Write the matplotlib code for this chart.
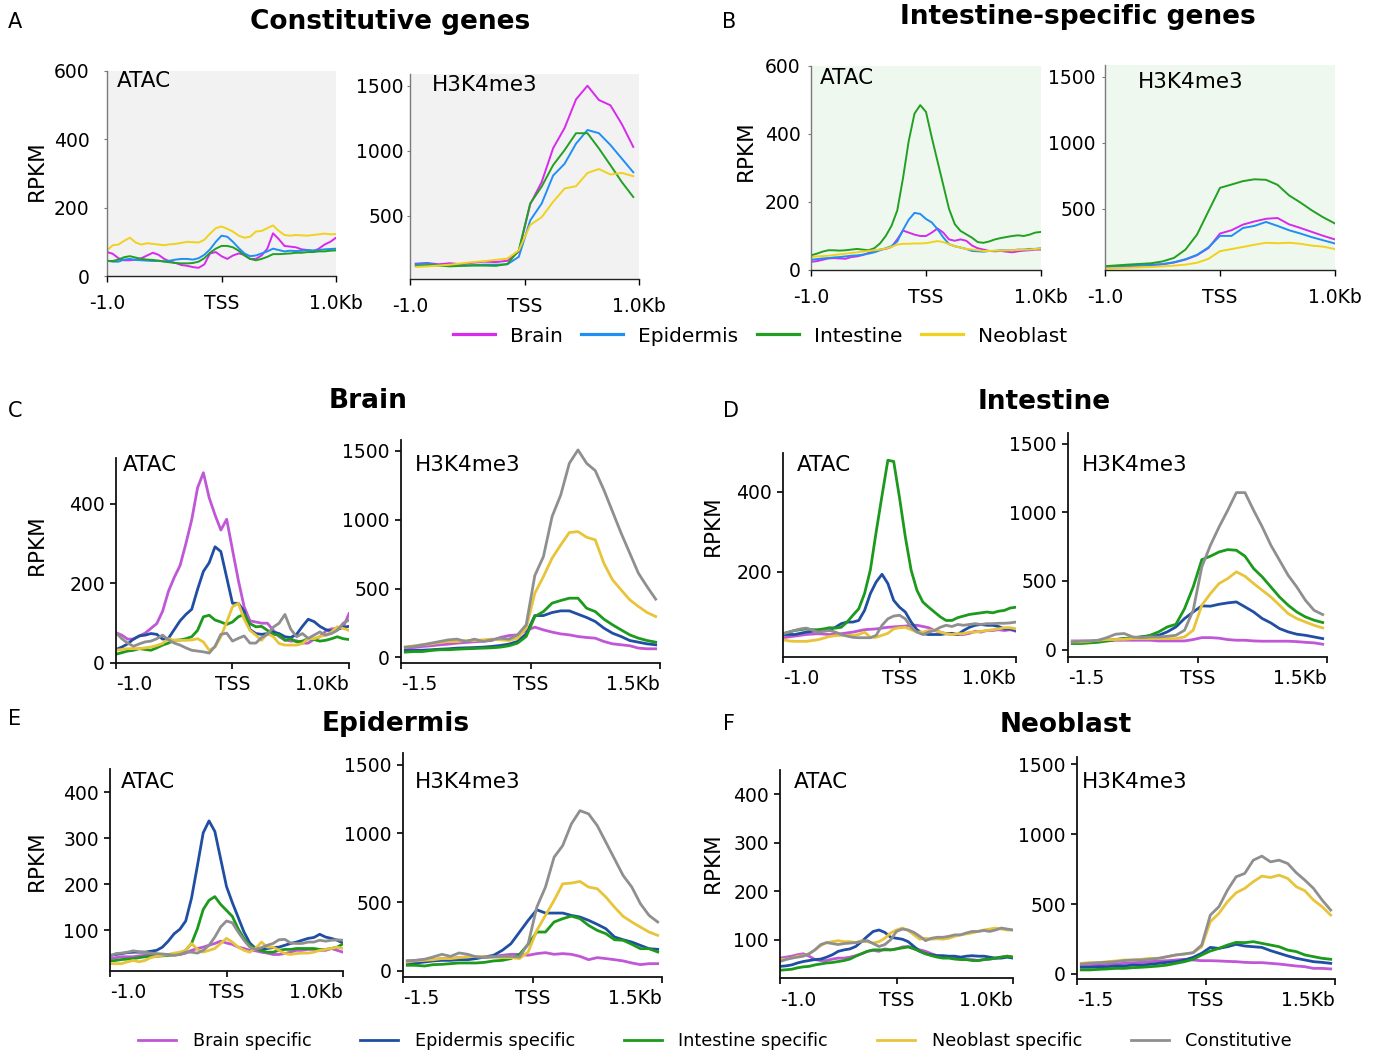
import numpy as np
import matplotlib
matplotlib.use("Agg")
import matplotlib.pyplot as plt
from matplotlib.lines import Line2D

W, H = 1377, 1054

# ---------------- tick labels ----------------
xlabels_1kb = ["-1.0", "TSS", "1.0Kb"]
xlabels_15kb = ["-1.5", "TSS", "1.5Kb"]

# ---------------- A: constitutive genes (4 tissues) ----------------
a_atac_brain = [70, 65, 52, 46, 46, 48, 52, 60, 68, 62, 50, 42, 38, 32, 30, 26, 24, 34, 66, 70, 58,
                50, 60, 66, 62, 50, 50, 60, 80, 125, 108, 88, 86, 84, 78, 76, 72, 80, 92, 100, 112]
a_atac_epidermis = [45, 42, 42, 48, 50, 47, 46, 45, 44, 44, 43, 45, 48, 50, 50, 48, 52, 62, 78, 100, 118,
                    115, 100, 82, 66, 58, 60, 66, 72, 80, 76, 72, 74, 73, 74, 76, 75, 76, 78, 79, 80]
a_atac_intestine = [44, 44, 48, 55, 58, 54, 50, 48, 47, 45, 42, 40, 38, 37, 37, 38, 42, 52, 68, 80, 88,
                    88, 84, 74, 60, 50, 46, 50, 56, 64, 64, 65, 66, 68, 68, 70, 70, 72, 72, 74, 75]
a_atac_neoblast = [75, 90, 92, 103, 112, 98, 92, 96, 94, 92, 90, 93, 94, 97, 100, 99, 98, 106, 124, 140, 145,
                   138, 130, 118, 112, 115, 130, 132, 140, 148, 132, 120, 118, 120, 119, 118, 120, 122, 124, 122, 123]

a_h3_brain = [133, 138, 128, 136, 128, 140, 148, 145, 155, 225, 590, 760, 1020, 1175, 1395, 1500, 1390, 1350, 1205, 1030]
a_h3_epidermis = [128, 135, 122, 118, 118, 122, 125, 125, 128, 185, 465, 595, 810, 900, 1055, 1160, 1135, 1045, 940, 835]
a_h3_intestine = [115, 122, 118, 112, 116, 118, 118, 116, 130, 235, 595, 725, 890, 1005, 1135, 1135, 1018, 890, 760, 645]
a_h3_neoblast = [108, 112, 118, 125, 135, 145, 152, 162, 172, 235, 430, 490, 608, 710, 728, 830, 860, 818, 830, 805]

# ---------------- B: intestine-specific genes (4 tissues) ----------------
b_atac_brain = [24, 26, 30, 34, 35, 34, 33, 38, 40, 44, 50, 56, 60, 62, 68, 90, 116, 110, 104, 100, 100,
                110, 122, 110, 90, 86, 90, 86, 72, 64, 60, 56, 55, 56, 54, 52, 55, 57, 58, 60, 60]
b_atac_epidermis = [30, 32, 34, 35, 37, 38, 40, 42, 43, 45, 48, 52, 58, 64, 70, 84, 118, 148, 168, 165, 150,
                    140, 120, 96, 76, 70, 66, 62, 56, 55, 54, 56, 56, 58, 58, 58, 60, 60, 62, 62, 64]
b_atac_intestine = [43, 48, 54, 58, 58, 57, 58, 60, 62, 60, 58, 64, 78, 100, 130, 175, 270, 380, 460, 485, 465,
                    390, 320, 250, 180, 135, 115, 105, 95, 82, 80, 84, 90, 94, 97, 100, 102, 100, 104, 110, 112]
b_atac_neoblast = [38, 40, 41, 42, 44, 46, 48, 50, 52, 54, 56, 58, 60, 63, 68, 75, 77, 77, 78, 78, 79,
                   82, 85, 82, 76, 70, 66, 62, 60, 58, 56, 56, 57, 57, 58, 58, 59, 60, 60, 62, 63]

b_h3_brain = [57, 60, 63, 66, 70, 76, 90, 112, 145, 200, 310, 335, 378, 402, 422, 428, 380, 352, 322, 292, 265]
b_h3_epidermis = [60, 62, 65, 68, 72, 78, 92, 115, 148, 205, 292, 292, 352, 368, 398, 368, 335, 310, 282, 258, 234]
b_h3_intestine = [62, 68, 74, 79, 84, 98, 125, 188, 302, 480, 657, 682, 708, 722, 718, 680, 600, 545, 485, 432, 386]
b_h3_neoblast = [44, 47, 50, 53, 56, 60, 66, 74, 88, 118, 176, 192, 208, 225, 240, 236, 240, 232, 218, 210, 192]

# ---------------- C: brain ----------------
c_atac_brain_sp = [76, 70, 60, 60, 68, 75, 87, 99, 130, 180, 215, 245, 300, 360, 440, 478, 415, 372, 334, 361, 284,
                   208, 141, 106, 103, 100, 100, 82, 66, 58, 55, 56, 50, 50, 60, 66, 80, 86, 86, 90, 124]
c_atac_epi_sp = [34, 40, 48, 60, 68, 70, 74, 72, 60, 62, 84, 106, 122, 135, 185, 230, 252, 292, 280, 215, 150,
                 150, 130, 84, 74, 72, 74, 78, 74, 66, 64, 72, 92, 110, 104, 92, 84, 80, 84, 90, 92]
c_atac_int_sp = [22, 26, 30, 32, 36, 34, 32, 38, 45, 50, 57, 58, 61, 66, 82, 116, 120, 108, 103, 97, 103,
                 116, 122, 99, 91, 92, 82, 72, 70, 57, 61, 53, 55, 61, 59, 55, 57, 61, 66, 61, 59]
c_atac_neo_sp = [32, 34, 36, 36, 36, 38, 40, 44, 49, 61, 57, 57, 57, 58, 61, 53, 32, 40, 66, 103, 141,
                 150, 110, 82, 70, 57, 74, 66, 49, 45, 45, 45, 49, 61, 61, 66, 70, 78, 91, 87, 82]
c_atac_const = [76, 61, 50, 42, 48, 53, 55, 61, 70, 58, 50, 45, 38, 32, 30, 28, 25, 42, 72, 75, 55,
                62, 68, 50, 50, 64, 72, 90, 100, 122, 85, 66, 74, 62, 70, 78, 70, 74, 82, 100, 108]

c_h3_brain_sp = [68, 72, 80, 85, 92, 97, 104, 109, 114, 118, 123, 145, 159, 164, 196,
                 220, 200, 184, 171, 164, 152, 145, 140, 116, 99, 92, 85, 68, 63, 63]
c_h3_epi_sp = [51, 51, 53, 56, 60, 63, 68, 70, 72, 75, 80, 87, 97, 116, 171,
               304, 304, 326, 338, 338, 314, 290, 261, 213, 176, 152, 123, 111, 99, 92]
c_h3_int_sp = [39, 43, 43, 51, 56, 56, 60, 63, 65, 68, 70, 75, 85, 104, 152,
               297, 333, 394, 413, 430, 430, 357, 333, 278, 237, 200, 164, 140, 123, 111]
c_h3_neo_sp = [75, 85, 92, 99, 109, 116, 116, 123, 123, 128, 133, 128, 123, 140, 213,
               466, 587, 720, 816, 906, 913, 872, 853, 683, 563, 490, 418, 370, 326, 297]
c_h3_const = [75, 80, 92, 104, 116, 128, 133, 116, 133, 116, 128, 140, 133, 164, 237,
              594, 732, 1022, 1178, 1408, 1505, 1408, 1355, 1215, 1058, 901, 756, 611, 514, 423]

# ---------------- D: intestine ----------------
d_atac_brain_sp = [36, 38, 40, 42, 44, 45, 46, 45, 44, 45, 46, 48, 50, 53, 56, 57, 58, 60, 62, 63, 64,
                   65, 67, 67, 64, 61, 54, 50, 46, 44, 44, 44, 47, 52, 50, 54, 54, 56, 54, 56, 52]
d_atac_epi_sp = [44, 44, 44, 47, 50, 52, 54, 55, 56, 62, 71, 75, 75, 79, 104, 146, 175, 194, 171, 129, 112,
                 100, 75, 56, 46, 44, 44, 44, 46, 47, 44, 54, 62, 67, 69, 67, 67, 64, 58, 58, 54]
d_atac_int_sp = [46, 50, 54, 56, 58, 56, 56, 58, 61, 60, 62, 75, 92, 108, 146, 205, 300, 390, 478, 475, 385,
                 287, 204, 154, 125, 112, 100, 88, 79, 79, 86, 90, 94, 96, 98, 100, 98, 102, 104, 110, 112]
d_atac_neo_sp = [31, 28, 27, 27, 27, 29, 31, 35, 39, 41, 42, 42, 42, 44, 50, 37, 37, 42, 47, 58, 61,
                 62, 56, 50, 50, 54, 54, 50, 46, 44, 46, 46, 50, 50, 52, 54, 56, 58, 61, 61, 58]
d_atac_const = [46, 50, 54, 58, 60, 55, 50, 52, 54, 50, 44, 40, 37, 36, 36, 36, 42, 67, 83, 90, 92,
                83, 62, 50, 44, 50, 54, 62, 67, 64, 69, 67, 69, 71, 69, 71, 71, 72, 72, 73, 75]

d_h3_brain_sp = [63, 63, 63, 63, 63, 68, 68, 68, 68, 68, 63, 63, 63, 63, 73,
                 87, 87, 83, 73, 68, 68, 63, 61, 61, 61, 61, 58, 53, 49, 39]
d_h3_epi_sp = [49, 51, 56, 61, 68, 73, 80, 85, 92, 97, 104, 129, 165, 226, 274,
               318, 316, 330, 340, 347, 311, 274, 226, 194, 153, 129, 112, 104, 92, 80]
d_h3_int_sp = [44, 44, 49, 53, 63, 73, 80, 87, 92, 104, 129, 165, 184, 298, 456,
               655, 680, 711, 728, 723, 680, 590, 529, 456, 383, 323, 274, 238, 214, 197]
d_h3_neo_sp = [56, 56, 61, 68, 73, 73, 75, 80, 80, 80, 80, 80, 80, 92, 141,
               323, 408, 481, 517, 566, 534, 481, 432, 383, 323, 262, 226, 201, 177, 158]
d_h3_const = [56, 61, 63, 68, 87, 112, 117, 92, 87, 92, 92, 97, 104, 141, 286,
              602, 760, 893, 1014, 1143, 1143, 1014, 893, 760, 650, 541, 456, 359, 286, 255]

# ---------------- E: epidermis ----------------
e_atac_brain_sp = [38, 40, 42, 42, 42, 44, 45, 46, 47, 47, 47, 47, 47, 50, 56, 60, 63, 67, 71, 76, 72,
                   69, 63, 60, 56, 55, 52, 50, 47, 47, 49, 52, 56, 56, 58, 58, 56, 56, 60, 56, 52]
e_atac_epi_sp = [45, 47, 49, 51, 52, 52, 52, 54, 56, 63, 76, 92, 102, 120, 170, 240, 312, 338, 315, 255, 195,
                 160, 128, 96, 72, 60, 58, 60, 62, 63, 67, 71, 74, 78, 82, 84, 91, 85, 82, 78, 72]
e_atac_int_sp = [33, 34, 36, 37, 38, 40, 42, 43, 43, 44, 45, 46, 47, 56, 71, 103, 145, 165, 173, 156, 143,
                 130, 103, 82, 67, 60, 55, 52, 52, 56, 58, 58, 60, 60, 60, 60, 58, 58, 60, 63, 70]
e_atac_neo_sp = [27, 27, 27, 31, 34, 31, 34, 40, 43, 45, 47, 50, 52, 56, 71, 58, 52, 56, 60, 71, 82,
                 74, 63, 56, 52, 60, 74, 63, 63, 56, 49, 47, 49, 50, 50, 52, 56, 58, 60, 63, 60]
e_atac_const = [43, 49, 50, 52, 55, 53, 52, 50, 49, 48, 47, 45, 47, 52, 52, 50, 56, 67, 85, 107, 120,
                116, 96, 78, 63, 58, 62, 67, 71, 79, 80, 72, 71, 71, 74, 74, 78, 76, 78, 79, 78]

e_h3_brain_sp = [73, 77, 82, 82, 90, 90, 97, 102, 102, 102, 106, 114, 121, 121, 114,
                 126, 133, 121, 126, 121, 106, 82, 97, 90, 82, 73, 58, 46, 53, 53]
e_h3_epi_sp = [53, 58, 65, 73, 77, 77, 82, 82, 90, 102, 114, 150, 198, 283, 368,
               445, 421, 421, 421, 404, 392, 368, 339, 307, 247, 227, 210, 186, 162, 157]
e_h3_int_sp = [41, 41, 36, 46, 48, 53, 58, 58, 58, 63, 73, 77, 90, 121, 194,
               283, 283, 356, 380, 399, 380, 331, 295, 271, 227, 223, 194, 162, 162, 138]
e_h3_neo_sp = [65, 73, 77, 82, 90, 90, 97, 102, 106, 102, 102, 97, 97, 90, 138,
               295, 404, 513, 634, 639, 651, 610, 598, 537, 464, 397, 356, 319, 283, 259]
e_h3_const = [73, 77, 85, 102, 121, 106, 131, 121, 102, 97, 102, 106, 106, 102, 198,
              464, 610, 827, 912, 1069, 1166, 1142, 1057, 936, 815, 694, 610, 489, 404, 356]

# ---------------- F: neoblast ----------------
f_atac_brain_sp = [62, 64, 66, 69, 71, 66, 59, 57, 57, 60, 62, 62, 64, 67, 71, 76, 78, 76, 81, 79, 81,
                   85, 86, 83, 79, 76, 71, 67, 66, 64, 62, 60, 59, 59, 57, 59, 60, 62, 64, 66, 64]
f_atac_epi_sp = [45, 46, 48, 52, 55, 57, 59, 60, 64, 69, 76, 79, 81, 86, 96, 107, 117, 120, 115, 105, 103,
                 101, 96, 86, 76, 71, 69, 67, 67, 66, 66, 64, 66, 67, 66, 66, 64, 62, 62, 64, 62]
f_atac_int_sp = [37, 38, 39, 42, 44, 45, 48, 50, 52, 53, 55, 57, 60, 66, 71, 76, 79, 79, 79, 79, 81,
                 83, 85, 81, 76, 71, 67, 64, 62, 62, 60, 59, 59, 57, 57, 59, 60, 62, 64, 66, 64]
f_atac_neo_sp = [59, 60, 62, 66, 67, 71, 79, 88, 94, 96, 98, 96, 96, 94, 98, 96, 93, 96, 103, 114, 120,
                 124, 119, 110, 101, 103, 101, 102, 101, 103, 107, 110, 112, 114, 117, 120, 122, 124, 122, 120, 120]
f_atac_const = [55, 59, 62, 64, 66, 71, 79, 90, 94, 92, 90, 92, 93, 94, 96, 98, 92, 86, 90, 100, 117,
                122, 120, 115, 107, 98, 103, 105, 105, 107, 110, 110, 114, 117, 117, 119, 117, 120, 124, 122, 120]

f_h3_brain_sp = [57, 60, 64, 69, 71, 76, 81, 83, 88, 93, 95, 100, 105, 100, 95,
                 95, 93, 90, 88, 83, 81, 81, 76, 71, 64, 57, 52, 40, 40, 36]
f_h3_epi_sp = [48, 48, 52, 52, 57, 57, 64, 64, 69, 76, 83, 88, 100, 119, 148,
               190, 183, 195, 212, 200, 195, 190, 167, 148, 129, 112, 100, 88, 83, 76]
f_h3_int_sp = [29, 29, 33, 36, 40, 40, 45, 48, 52, 57, 64, 76, 88, 105, 136,
               164, 183, 207, 226, 224, 231, 219, 207, 195, 171, 160, 136, 124, 112, 105]
f_h3_neo_sp = [76, 81, 81, 88, 93, 100, 100, 105, 112, 112, 124, 136, 143, 152, 195,
               374, 433, 517, 581, 612, 660, 700, 690, 707, 683, 624, 595, 529, 481, 421]
f_h3_const = [71, 76, 81, 83, 88, 95, 100, 100, 105, 112, 124, 136, 143, 152, 207,
              421, 481, 600, 695, 719, 814, 843, 802, 814, 790, 724, 671, 612, 529, 457]

# ---------------- styling ----------------
tissue_names = ["Brain", "Epidermis", "Intestine", "Neoblast"]
tissue_colors = ["#d829ee", "#1f8ff5", "#22a022", "#f0d21e"]
group_names = ["Brain specific", "Epidermis specific", "Intestine specific",
               "Neoblast specific", "Constitutive"]
group_colors = ["#bf57d6", "#1f4ea3", "#1c9a1c", "#e8c43a", "#8f8f8f"]

plt.rcParams["font.family"] = ["DejaVu Sans"]
fig = plt.figure(figsize=(W / 100, H / 100), dpi=100)


def rect(x0, x1, y0, y1):
    return [x0 / W, 1 - y1 / H, (x1 - x0) / W, (y1 - y0) / H]


def fx(x):
    return x / W


def fy(y):
    return 1 - y / H


def make_axes(box, ylim, yticks, xlim, xlabels, style, ypad=4, xpad=6):
    ax = fig.add_axes(rect(*box))
    ax.set_xlim(*xlim)
    ax.set_ylim(*ylim)
    ax.set_yticks(yticks)
    ax.set_yticklabels([str(t) for t in yticks])
    ax.set_xticks([xlim[0], 0, xlim[1]])
    ax.set_xticklabels(xlabels)
    ax.spines["top"].set_visible(False)
    ax.spines["right"].set_visible(False)
    if style == "top":
        ax.spines["left"].set_color("#7a7a7a")
        ax.spines["left"].set_linewidth(1.0)
        ax.spines["bottom"].set_color("#222222")
        ax.spines["bottom"].set_linewidth(1.0)
        ax.tick_params(axis="y", length=2.5, width=0.8, color="#7a7a7a",
                       labelsize=13.5, pad=ypad)
        ax.tick_params(axis="x", length=4, width=1.0, labelsize=13.5, pad=xpad)
    else:
        for s in ("left", "bottom"):
            ax.spines[s].set_color("#111111")
            ax.spines[s].set_linewidth(1.3)
        ax.tick_params(axis="both", length=4, width=1.2, labelsize=13.5)
        ax.tick_params(axis="y", pad=ypad)
        ax.tick_params(axis="x", pad=xpad)
        # outer labels sit inside the axis span
        xt = ax.get_xticklabels()
        xt[0].set_horizontalalignment("left")
        xt[-1].set_horizontalalignment("right")
    return ax


x_atac = np.linspace(-1, 1, 41)
x_h3_a = np.arange(-0.95, 1.0, 0.1)
x_h3_b = np.linspace(-1, 1, 21)
x_h3_15 = np.arange(-1.45, 1.5, 0.1)

# ---------- A ----------
ax = make_axes((107, 336, 71, 276), (0, 600), [0, 200, 400, 600], (-1, 1), xlabels_1kb, "top", ypad=10, xpad=9)
ax.set_facecolor("#f2f2f2")
for vals, c in zip([a_atac_brain, a_atac_epidermis, a_atac_intestine, a_atac_neoblast], tissue_colors):
    ax.plot(x_atac, vals, color=c, lw=1.4)

ax = make_axes((410, 639, 74, 279), (15, 1590), [500, 1000, 1500], (-1, 1), xlabels_1kb, "top", ypad=2, xpad=9)
ax.set_facecolor("#f2f2f2")
for vals, c in zip([a_h3_brain, a_h3_epidermis, a_h3_intestine, a_h3_neoblast], tissue_colors):
    ax.plot(x_h3_a, vals, color=c, lw=1.4)

# ---------- B ----------
ax = make_axes((811, 1041, 66, 270), (0, 600), [0, 200, 400, 600], (-1, 1), xlabels_1kb, "top", ypad=5, xpad=9)
ax.set_facecolor("#eff8ef")
for vals, c in zip([b_atac_brain, b_atac_epidermis, b_atac_intestine, b_atac_neoblast], tissue_colors):
    ax.plot(x_atac, vals, color=c, lw=1.4)

ax = make_axes((1105, 1335, 65, 270), (33, 1590), [500, 1000, 1500], (-1, 1), xlabels_1kb, "top", ypad=4, xpad=9)
ax.set_facecolor("#eff8ef")
for vals, c in zip([b_h3_brain, b_h3_epidermis, b_h3_intestine, b_h3_neoblast], tissue_colors):
    ax.plot(x_h3_b, vals, color=c, lw=1.4)

# ---------- C-F ----------
lower_panels = [
    ((116, 349, 458, 663), (0, 515), [0, 200, 400],
     [c_atac_brain_sp, c_atac_epi_sp, c_atac_int_sp, c_atac_neo_sp, c_atac_const],
     (401, 660, 440, 663), (-40, 1577),
     [c_h3_brain_sp, c_h3_epi_sp, c_h3_int_sp, c_h3_neo_sp, c_h3_const]),
    ((783, 1016, 453, 657), (-12, 496), [200, 400],
     [d_atac_brain_sp, d_atac_epi_sp, d_atac_int_sp, d_atac_neo_sp, d_atac_const],
     (1068, 1327, 433, 657), (-54, 1577),
     [d_h3_brain_sp, d_h3_epi_sp, d_h3_int_sp, d_h3_neo_sp, d_h3_const]),
    ((110, 343, 769, 971), (11, 451), [100, 200, 300, 400],
     [e_atac_brain_sp, e_atac_epi_sp, e_atac_int_sp, e_atac_neo_sp, e_atac_const],
     (403, 662, 753, 977), (-44, 1585),
     [e_h3_brain_sp, e_h3_epi_sp, e_h3_int_sp, e_h3_neo_sp, e_h3_const]),
    ((780, 1013, 770, 978), (21, 450), [100, 200, 300, 400],
     [f_atac_brain_sp, f_atac_epi_sp, f_atac_int_sp, f_atac_neo_sp, f_atac_const],
     (1077, 1335, 757, 979), (-36, 1552),
     [f_h3_brain_sp, f_h3_epi_sp, f_h3_int_sp, f_h3_neo_sp, f_h3_const]),
]

for abox, aylim, ayt, aseries, hbox, hylim, hseries in lower_panels:
    ax = make_axes(abox, aylim, ayt, (-1, 1), xlabels_1kb, "low", ypad=4, xpad=5)
    for vals, c in zip(aseries, group_colors):
        ax.plot(x_atac, vals, color=c, lw=2.0)
    ax = make_axes(hbox, hylim, [0, 500, 1000, 1500], (-1.5, 1.5), xlabels_15kb, "low", ypad=4, xpad=5)
    for vals, c in zip(hseries, group_colors):
        ax.plot(x_h3_15, vals, color=c, lw=2.0)

# ---------- in-panel assay labels ----------
assay_labels = [(117, 81, "ATAC"), (432, 85, "H3K4me3"), (820, 78, "ATAC"), (1138, 82, "H3K4me3"),
                (123, 465, "ATAC"), (415, 465, "H3K4me3"), (797, 465, "ATAC"), (1082, 465, "H3K4me3"),
                (121, 782, "ATAC"), (415, 782, "H3K4me3"), (794, 782, "ATAC"), (1082, 782, "H3K4me3")]
for x, y, s in assay_labels:
    fig.text(fx(x), fy(y), s, fontsize=15.5, ha="left", va="center")

# ---------- y labels ----------
for x, y in [(37, 171), (746, 151), (37, 545), (713, 526), (37, 861), (713, 863)]:
    fig.text(fx(x), fy(y), "RPKM", fontsize=15.5, rotation=90, ha="center", va="center")

# ---------- titles and panel letters ----------
titles = [(390, 22, "Constitutive genes"), (1078, 17, "Intestine-specific genes"),
          (368, 401, "Brain"), (1044, 402, "Intestine"),
          (396, 724, "Epidermis"), (1066, 725, "Neoblast")]
for x, y, s in titles:
    fig.text(fx(x), fy(y), s, fontsize=19, fontweight="bold", ha="center", va="center")

letters = [(15, 22, "A"), (729, 22, "B"), (15, 411, "C"), (731, 411, "D"), (15, 719, "E"), (729, 724, "F")]
for x, y, s in letters:
    fig.text(fx(x), fy(y), s, fontsize=15, ha="center", va="center")

# ---------- legends ----------
tissue_handles = [Line2D([], [], color=c, lw=2.3) for c in tissue_colors]
fig.legend(tissue_handles, tissue_names, loc="center", bbox_to_anchor=(fx(760), fy(336)),
           ncol=4, frameon=False, fontsize=14.5, handlelength=2.1, handletextpad=0.75,
           columnspacing=0.9, borderpad=0, borderaxespad=0)

group_handles = [Line2D([], [], color=c, lw=2.0) for c in group_colors]
fig.legend(group_handles, group_names, loc="center", bbox_to_anchor=(fx(715), fy(1041)),
           ncol=5, frameon=False, fontsize=12.7, handlelength=2.15, handletextpad=0.95,
           columnspacing=2.76, borderpad=0, borderaxespad=0)

fig.savefig("out.png", dpi=100)
